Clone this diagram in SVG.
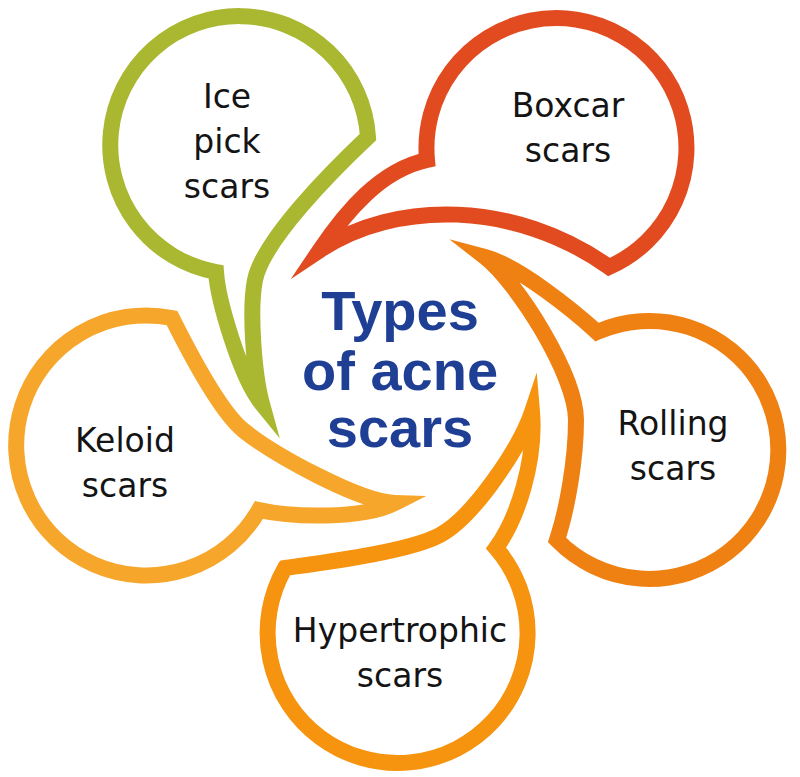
<svg xmlns="http://www.w3.org/2000/svg" width="800" height="777" viewBox="0 0 800 777">
  <style>
    .bubble { fill: none; stroke-width: 16; stroke-linejoin: miter; stroke-miterlimit: 10; }
    .label { font-family: "DejaVu Sans", "Liberation Sans", sans-serif; font-size: 33px; fill: #141414; text-anchor: middle; }
    .title { font-family: "Liberation Sans", Arial, sans-serif; font-weight: bold; font-size: 56px; fill: #1F3F94; text-anchor: middle; }
  </style>
  <rect x="0" y="0" width="800" height="777" fill="#ffffff"/>

  <g id="node-icepick">
    <path class="bubble" stroke="#A9B731" d="M 216,272 A 129 129 0 1 1 368,137 C 333,170 263,240 255,280 C 249,310 254,375 262,404 C 240,377 218,300 216,272 Z"/>
    <text class="label" x="227" y="108">Ice</text>
    <text class="label" x="227" y="153">pick</text>
    <text class="label" x="227" y="198">scars</text>
  </g>

  <g id="node-boxcar">
    <path class="bubble" stroke="#E14B1F" d="M 427,160 A 130 130 0 1 1 609,267 C 515,200 395,200 320,250 C 345,213 380,170 427,160 Z"/>
    <text class="label" x="568" y="117">Boxcar</text>
    <text class="label" x="568" y="162">scars</text>
  </g>

  <g id="node-rolling">
    <path class="bubble" stroke="#EF8012" d="M 597,332 A 129 129 0 1 1 557,540 C 567,510 576,460 576,420 C 576,375 517,282 485,257 C 519,266 575,312 597,332 Z"/>
    <text class="label" x="673" y="435">Rolling</text>
    <text class="label" x="673" y="480">scars</text>
  </g>

  <g id="node-hypertrophic">
    <path class="bubble" stroke="#F6930F" d="M 496,548 A 130 130 0 1 1 285,568 C 320,563 409,552 440,535 C 475,516 521,445 532,412 C 536,460 518,518 496,548 Z"/>
    <text class="label" x="400" y="642">Hypertrophic</text>
    <text class="label" x="400" y="687">scars</text>
  </g>

  <g id="node-keloid">
    <path class="bubble" stroke="#F6A62B" d="M 259,510 A 130 130 0 1 1 172,318 C 187,348 220,411 243,430 C 274,455 360,502 395,503 C 362,520 290,517 259,510 Z"/>
    <text class="label" x="125" y="452">Keloid</text>
    <text class="label" x="125" y="497">scars</text>
  </g>

  <g id="node-title">
    <text class="title" x="400" y="330">Types</text>
    <text class="title" x="400" y="390">of acne</text>
    <text class="title" x="400" y="447">scars</text>
  </g>
</svg>
